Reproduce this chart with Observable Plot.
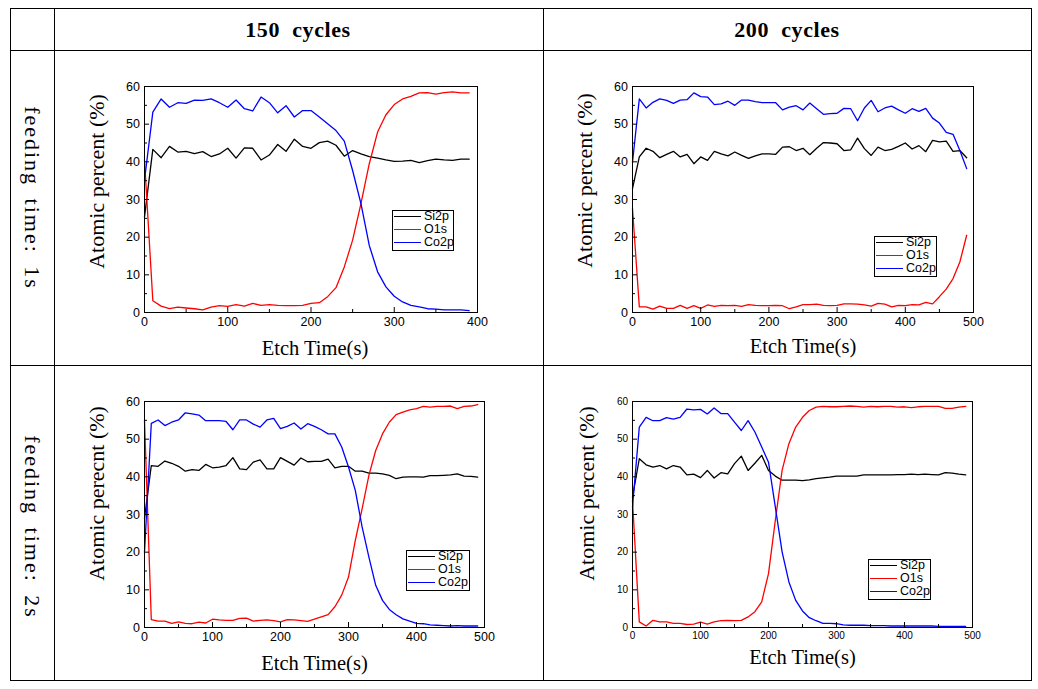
<!DOCTYPE html>
<html>
<head>
<meta charset="utf-8">
<script src="https://cdn.jsdelivr.net/npm/d3@7"></script>
<script src="https://cdn.jsdelivr.net/npm/@observablehq/plot@0.6"></script>
<style>
  body { margin: 0; background: #fff; }
  #root { position: relative; width: 1038px; height: 689px; overflow: hidden; background: #fff; font-family: "Liberation Serif", "Times New Roman", serif; color: #000; }
  .hl { position: absolute; height: 1px; background: #000; }
  .vl { position: absolute; width: 1px; background: #000; }
  .hdr { position: absolute; font-weight: bold; font-size: 22px; letter-spacing: 0.6px; transform: translate(-50%, -50%); white-space: pre; }
  .rowlab { position: absolute; font-size: 22px; letter-spacing: 2px; word-spacing: 5px; transform: translate(-50%, -50%) rotate(90deg); white-space: pre; }
  .chart { position: absolute; }
  .legend { position: absolute; border: 1px solid #000; box-sizing: border-box; font-family: "Liberation Sans", Arial, sans-serif; font-size: 12.5px; }
  .legend .r { position: absolute; left: 0; height: 13px; line-height: 13px; white-space: nowrap; }
  .legend .ln { position: absolute; left: 1px; top: 6px; width: 27px; height: 1px; }
  .legend .tx { position: absolute; left: 31px; top: 0; }
</style>
</head>
<body>
<div id="root"></div>
<script>
// ---------------- data ----------------
const colHeaders = ["150  cycles", "200  cycles"];
const rowHeaders = ["feeding time: 1s", "feeding time: 2s"];
const seriesNames = ["Si2p", "O1s", "Co2p"];
const seriesColors = ["#000000", "#ff0000", "#0000ff"];
const yLabelA = "Atomic percent (%)";
const yLabelB = "Atomic perecnt (%)";
const xLabel = "Etch Time(s)";

const yTicks = [0, 10, 20, 30, 40, 50, 60];
const yMinor = [5, 15, 25, 35, 45, 55];
const xTicks400 = [0, 100, 200, 300, 400];
const xMinor400 = [50, 150, 250, 350];
const xTicks500 = [0, 100, 200, 300, 400, 500];
const xMinor500 = [50, 150, 250, 350, 450];

const times400 = [0,10,20,30,40,50,60,70,80,90,100,110,120,130,140,150,160,170,180,190,200,210,220,230,240,250,260,270,280,290,300,310,320,330,340,350,360,370,380,390];
const times500 = [0,10,20,30,40,50,60,70,80,90,100,110,120,130,140,150,160,170,180,190,200,210,220,230,240,250,260,270,280,290,300,310,320,330,340,350,360,370,380,390,400,410,420,430,440,450,460,470,480,490];

// 150 cycles, feeding time 1s
const si_150_1 = [25.4,43.3,41.1,44.1,42.6,42.8,42.2,42.7,41.4,42.1,43.6,41.0,43.7,43.6,40.5,41.8,44.6,42.8,46.0,44.1,43.6,45.1,45.5,44.4,41.5,43.0,42.1,41.4,41.0,40.5,40.1,40.2,40.4,39.8,40.3,40.7,40.5,40.4,40.7,40.7];
const o_150_1  = [40.5,3.1,1.7,1.0,1.4,1.2,1.0,0.7,1.4,1.8,1.6,2.1,1.7,2.4,1.9,2.1,1.9,1.8,1.8,1.9,2.4,2.6,4.2,6.6,12.1,19.2,28.9,39.5,47.9,52.5,55.2,56.7,57.4,58.3,58.4,58.0,58.4,58.6,58.3,58.3];
const co_150_1 = [35.1,53.2,56.7,54.5,55.7,55.5,56.4,56.3,56.7,55.7,54.5,56.4,54.1,53.5,57.2,55.7,53.0,54.9,51.9,53.6,53.6,51.9,50.1,48.3,45.5,37.7,28.9,17.8,10.8,6.8,4.3,2.8,1.9,1.5,1.0,0.9,0.7,0.7,0.7,0.5];

// 200 cycles, feeding time 1s
const si_200_1 = [32.9,41.3,43.6,42.8,41.1,42.0,42.8,41.3,42.0,39.5,41.3,40.4,42.8,42.1,41.6,42.6,41.7,40.9,41.6,42.1,42.1,42.0,43.9,44.0,43.0,43.6,41.9,43.6,45.1,45.0,44.8,43.0,43.2,46.3,43.5,41.7,43.9,43.0,43.3,44.1,45.0,43.4,44.3,42.7,45.7,45.3,45.5,42.8,43.0,41.1];
const o_200_1  = [27.6,1.5,1.5,0.9,1.7,1.1,1.1,1.9,1.1,1.8,1.1,2.0,1.6,1.9,1.8,1.9,1.6,2.1,1.9,1.8,1.8,1.9,1.8,1.0,1.5,2.1,2.1,2.2,1.9,1.8,1.9,2.3,2.3,2.2,2.0,1.7,2.4,2.2,1.5,1.9,1.8,2.1,2.0,2.7,2.3,4.2,6.2,9.0,13.4,20.5];
const co_200_1 = [39.9,56.7,54.3,55.8,56.7,56.3,55.5,56.4,56.5,58.3,57.3,57.2,55.2,55.4,56.1,55.0,56.4,56.4,56.0,55.7,55.7,55.7,53.8,54.5,54.9,53.8,55.6,54.1,52.6,52.8,52.9,54.2,54.1,50.9,54.3,56.3,53.3,54.3,54.8,53.8,52.9,54.1,53.4,54.2,51.6,50.3,47.8,47.3,43.0,38.2];

// 150 cycles, feeding time 2s
const si_150_2 = [29.0,43.0,42.8,44.2,43.6,42.8,41.5,41.9,41.7,43.3,42.4,42.6,43.0,45.1,42.1,41.9,43.9,44.5,42.1,42.1,45.1,44.1,43.1,45.0,44.0,44.1,44.1,44.7,42.4,42.8,42.8,41.5,41.5,41.0,41.0,40.8,40.4,39.5,39.9,40.0,40.0,39.9,40.3,40.3,40.4,40.5,40.8,40.2,40.1,39.9];
const o_150_2  = [55.0,2.1,1.7,1.7,1.1,1.5,1.1,1.0,1.4,1.2,2.2,2.0,1.9,1.9,2.4,2.5,1.7,1.9,2.0,1.8,1.5,2.1,2.0,1.8,1.6,2.2,2.8,3.4,5.5,8.6,13.4,23.1,31.5,40.4,47.0,51.4,54.5,56.5,57.2,57.8,58.1,58.7,58.5,58.7,58.7,58.8,58.1,58.7,58.8,59.2];
const co_150_2 = [20.0,54.2,55.1,53.6,54.5,55.1,57.0,56.7,56.4,54.9,54.9,54.9,54.7,52.5,55.1,55.1,54.0,53.2,55.1,55.5,52.8,53.4,54.3,52.7,54.1,53.4,52.5,51.4,51.4,47.9,42.6,36.4,26.7,18.7,11.2,7.2,4.8,3.4,2.3,1.7,1.1,1.0,0.7,0.6,0.5,0.4,0.5,0.4,0.4,0.4];

// 200 cycles, feeding time 2s
const si_200_2 = [34.6,44.8,43.2,42.6,43.0,42.1,43.0,42.6,40.5,40.7,39.8,41.7,39.7,41.1,40.8,43.5,45.5,41.7,43.6,45.7,41.7,40.2,39.1,39.1,39.1,39.0,39.2,39.5,39.7,39.9,40.2,40.2,40.2,40.2,40.5,40.5,40.5,40.5,40.5,40.6,40.6,40.7,40.6,40.7,40.6,40.5,41.1,41.0,40.7,40.5];
const o_200_2  = [33.7,1.5,0.4,1.9,1.5,1.5,1.1,1.1,0.8,0.9,1.4,0.9,1.5,1.8,1.9,1.8,1.9,2.8,4.2,6.8,14.3,28.4,41.7,48.8,53.2,55.8,57.6,58.5,58.7,58.6,58.6,58.7,58.8,58.7,58.5,58.7,58.6,58.7,58.7,58.5,58.6,58.4,58.6,58.7,58.7,58.7,58.2,58.2,58.5,58.7];
const co_200_2 = [32.0,53.2,55.8,54.9,54.9,55.7,55.3,55.8,58.0,57.8,57.9,56.7,58.3,56.8,56.8,54.5,52.3,54.9,51.9,47.9,43.9,32.0,20.1,12.1,7.2,4.4,2.6,1.8,1.1,1.1,1.0,0.7,0.6,0.6,0.6,0.5,0.5,0.5,0.4,0.4,0.4,0.4,0.4,0.4,0.4,0.3,0.3,0.3,0.3,0.3];

// ---------------- layout ----------------
const root = document.getElementById("root");
function el(cls, css, text) {
  const d = document.createElement("div");
  d.className = cls;
  Object.assign(d.style, css);
  if (text != null) d.textContent = text;
  root.appendChild(d);
  return d;
}
// table grid
el("hl", {left: "10px", top: "8px", width: "1022px"});
el("hl", {left: "10px", top: "50px", width: "1022px"});
el("hl", {left: "10px", top: "365px", width: "1022px"});
el("hl", {left: "10px", top: "680px", width: "1022px"});
el("vl", {left: "10px", top: "8px", height: "673px"});
el("vl", {left: "54px", top: "8px", height: "673px"});
el("vl", {left: "543px", top: "8px", height: "673px"});
el("vl", {left: "1031px", top: "8px", height: "673px"});

el("hdr", {left: "298px", top: "30px"}, colHeaders[0]);
el("hdr", {left: "787px", top: "30px"}, colHeaders[1]);
el("rowlab", {left: "32px", top: "198px"}, rowHeaders[0]);
el("rowlab", {left: "32px", top: "527px"}, rowHeaders[1]);

const panels = [
  {t: times400, s: [si_150_1, o_150_1, co_150_1], xmax: 400, xt: xTicks400, xm: xMinor400,
   left: 60, top: 70, width: 430, height: 300, ml: 84, mr: 13, mt: 16, mb: 58,
   yl: yLabelA, ydx: -48, ydy: -18, xdx: 4, xdy: 36, fs: 12.5,
   leg: {left: 392, top: 210, w: 62, h: 41}},
  {t: times500, s: [si_200_1, o_200_1, co_200_1], xmax: 500, xt: xTicks500, xm: xMinor500,
   left: 548, top: 70, width: 440, height: 300, ml: 84, mr: 15, mt: 16, mb: 58,
   yl: yLabelA, ydx: -48, ydy: -19, xdx: 0, xdy: 34, fs: 12.5,
   leg: {left: 874, top: 236, w: 63, h: 41}},
  {t: times500, s: [si_150_2, o_150_2, co_150_2], xmax: 500, xt: xTicks500, xm: xMinor500,
   left: 60, top: 385, width: 440, height: 300, ml: 84, mr: 16, mt: 16, mb: 58,
   yl: yLabelB, ydx: -48, ydy: -21, xdx: 0, xdy: 36, fs: 12.5,
   leg: {left: 406, top: 550, w: 64, h: 41}},
  {t: times500, s: [si_200_2, o_200_2, co_200_2], xmax: 500, xt: xTicks500, xm: xMinor500,
   left: 548, top: 385, width: 440, height: 300, ml: 84, mr: 16, mt: 16, mb: 58,
   yl: yLabelA, ydx: -46, ydy: -21, xdx: 0, xdy: 30, fs: 10,
   leg: {left: 868, top: 559, w: 63, h: 41}}
];

const sans = "Liberation Sans, Arial, sans-serif";
const serif = "Liberation Serif, Times New Roman, serif";

for (const p of panels) {
  const lines = seriesNames.map((name, k) =>
    Plot.lineY(p.t.map((t, i) => ({t, v: p.s[k][i]})), {x: "t", y: "v", stroke: seriesColors[k], strokeWidth: 1.3})
  );
  const chart = Plot.plot({
    width: p.width, height: p.height,
    marginLeft: p.ml, marginRight: p.mr, marginTop: p.mt, marginBottom: p.mb,
    style: "background: transparent; overflow: visible;",
    x: {domain: [0, p.xmax]},
    y: {domain: [0, 60]},
    marks: [
      ...lines,
      Plot.axisX({ticks: p.xt, tickSize: -5, tickPadding: 9.5, label: null, fontSize: p.fs, fontFamily: sans, stroke: "#000", fill: "#000"}),
      Plot.axisX({ticks: p.xm, tickSize: -3, tickFormat: () => "", label: null, stroke: "#000"}),
      Plot.axisY({ticks: yTicks, tickSize: -5, tickPadding: 9.5, label: null, fontSize: p.fs, fontFamily: sans, stroke: "#000", fill: "#000"}),
      Plot.axisY({ticks: yMinor, tickSize: -3, tickFormat: () => "", label: null, stroke: "#000"}),
      Plot.frame({stroke: "#000", strokeWidth: 1}),
      Plot.text([p.yl], {text: d => d, frameAnchor: "left", textAnchor: "middle", lineAnchor: "middle", rotate: -90, dx: p.ydx, dy: p.ydy, fontSize: 22, fontFamily: serif, fill: "#000"}),
      Plot.text([xLabel], {text: d => d, frameAnchor: "bottom", textAnchor: "middle", lineAnchor: "middle", dx: p.xdx, dy: p.xdy, fontSize: 20.5, fontFamily: serif, fill: "#000"})
    ]
  });
  const wrap = el("chart", {left: p.left + "px", top: p.top + "px"});
  wrap.appendChild(chart);

  const lg = el("legend", {left: p.leg.left + "px", top: p.leg.top + "px", width: p.leg.w + "px", height: p.leg.h + "px"});
  seriesNames.forEach((name, k) => {
    const r = document.createElement("div");
    r.className = "r";
    r.style.top = (k * 13 - 1) + "px";
    const ln = document.createElement("span");
    ln.className = "ln";
    ln.style.background = seriesColors[k];
    const tx = document.createElement("span");
    tx.className = "tx";
    tx.textContent = name;
    r.appendChild(ln); r.appendChild(tx);
    lg.appendChild(r);
  });
}
</script>
</body>
</html>
